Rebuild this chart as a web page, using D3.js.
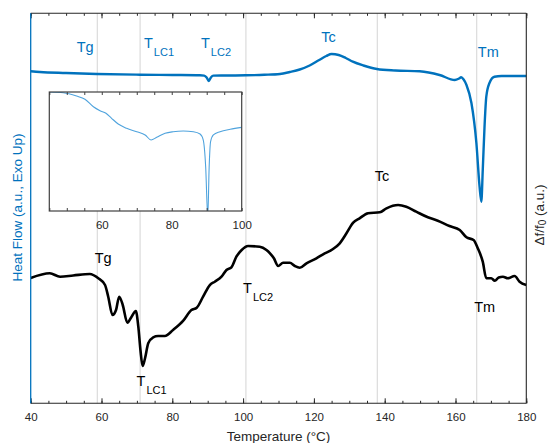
<!DOCTYPE html>
<html>
<head>
<meta charset="utf-8">
<script src="https://cdn.jsdelivr.net/npm/d3@7"></script>
<style>
  html, body { margin: 0; padding: 0; background: #fff; }
  svg { display: block; font-family: "Liberation Sans", Arial, sans-serif; }
</style>
</head>
<body>
<svg id="chart" width="549" height="443"></svg>
<script>
// ---------------- DATA ----------------
// DSC heat flow (a.u., exo up), temperature in °C
const dscTemp = [40, 42.6, 50, 58.7, 70.9, 80, 87.8, 89.0, 89.7, 90.3, 90.9, 91.6, 95, 100.8, 106, 110.4, 113.2, 116, 118.8, 121.5, 123.5, 125, 127, 129, 131, 134, 137.8, 143, 149.9, 155.5, 159.8, 161.0, 161.6, 162.3, 163.1, 164.5, 165.9, 166.8, 167.3, 167.7, 168.2, 168.7, 169.6, 171.0, 173, 180];
const dscFlow = [85.13, 84.95, 84.69, 84.44, 84.26, 84.18, 84.10, 84.03, 83.54, 82.64, 83.54, 84.03, 84.05, 84.10, 84.23, 84.44, 84.95, 85.59, 86.62, 88.03, 89.05, 89.56, 89.31, 88.54, 87.59, 86.62, 85.72, 85.33, 85.13, 84.18, 82.90, 83.28, 83.59, 83.03, 81.62, 77.0, 66.74, 55.54, 51.69, 59.82, 70.92, 78.62, 82.13, 83.74, 83.92, 83.92];

// Frequency shift Δf/f0 (a.u.)
const freqTemp = [40, 45.4, 48.3, 52, 56.7, 59.1, 61.0, 61.9, 63.1, 64.1, 65.0, 66.0, 67.3, 68.5, 69.7, 70.4, 71.0, 71.6, 72.3, 73.2, 74.6, 76.0, 77.9, 80.2, 83.1, 85.4, 86.9, 88.7, 90.6, 92.0, 93.9, 95.3, 96.7, 98.1, 99.6, 101.4, 104.7, 106.6, 107.6, 108.7, 109.9, 111.3, 113.2, 114.6, 116.0, 117.9, 120.7, 122.6, 125.4, 127.3, 129.2, 131.1, 132.9, 135.3, 138.6, 140.5, 143.8, 146.1, 148.9, 152.2, 155.0, 158.3, 161.2, 163.1, 165.1, 166.3, 167.7, 168.7, 170.1, 171.1, 172.2, 173.4, 174.8, 176.7, 178.1, 180];
const freqShift = [32.13, 33.33, 32.46, 32.77, 33.15, 32.05, 30.33, 27.33, 22.64, 23.92, 27.33, 25.21, 20.67, 22.21, 23.67, 19.64, 13.67, 9.56, 11.54, 15.38, 16.92, 17.26, 17.26, 18.79, 21.18, 23.92, 24.51, 27.33, 30.33, 31.18, 32.46, 34.18, 34.87, 37.59, 39.31, 40.33, 40.15, 39.31, 38.46, 37.18, 35.21, 36.05, 36.05, 35.21, 34.77, 35.90, 37.18, 38.21, 39.56, 41.03, 43.59, 46.31, 47.44, 48.72, 48.97, 50.0, 50.85, 50.41, 49.13, 47.69, 46.82, 45.46, 44.44, 42.56, 41.87, 39.74, 36.31, 32.05, 32.05, 31.44, 32.26, 32.46, 32.05, 32.64, 31.18, 30.33];

// Inset: DSC zoom 45–100 °C (a.u.)
const insetTemp = [45, 49, 52.8, 55.2, 57.6, 59.5, 61.2, 62.8, 64.7, 67.1, 70.0, 72.4, 74.1, 75.7, 78.1, 80.4, 83.3, 86.2, 88.1, 89.0, 89.7, 90.3, 90.7, 91.1, 91.9, 93.8, 96.7, 100];
const insetFlow = [100, 99.4, 96.6, 93.9, 87.6, 84.3, 82.1, 77.9, 73.1, 69.5, 66.6, 63.9, 59.7, 61.9, 65.3, 66.6, 67.2, 66.6, 64.7, 59.7, 37.2, -5, 37.2, 58.2, 63.9, 66.6, 68.7, 70.3];

// Transition temperatures (vertical guide lines)
const transitionTemps = [58.8, 70.9, 100.8, 137.9, 166.0];

// Tick labels
const xMajorTicks = [40, 60, 80, 100, 120, 140, 160, 180];
const insetMajorTicks = [60, 80, 100];

// Annotation labels: [main, subscript, temperature, a.u.]
const dscLabels = [["Tg", "", 53.0, 90.2], ["T", "LC1", 72.0, 91.0], ["T", "LC2", 88.1, 91.0], ["Tc", "", 122.1, 92.6], ["Tm", "", 166.3, 88.7]];
const freqLabels = [["Tg", "", 58.1, 36.1], ["T", "LC1", 69.9, 4.4], ["T", "LC2", 100.0, 28.2], ["Tc", "", 137.2, 56.9], ["Tm", "", 165.3, 23.5]];

// ---------------- DRAW ----------------
const BLUE = "#0072BD", DARK = "#262626";
const svg = d3.select("#chart");
const L = 30.7, R = 526.3, T = 13.3, B = 403.3;

const x = d3.scaleLinear().domain([40, 180]).range([L, R]);
const yFlow = d3.scaleLinear().domain([0, 100]).range([B, T]);
const yFreq = d3.scaleLinear().domain([0, 100]).range([B, T]);

// gridlines
svg.append("g").selectAll("line").data(transitionTemps).join("line")
  .attr("x1", d => x(d)).attr("x2", d => x(d))
  .attr("y1", T).attr("y2", B)
  .attr("stroke", "#d4d4d4").attr("stroke-width", 1);

// inset
const ix = d3.scaleLinear().domain([45, 100]).range([49.3, 241.7]);
const iy = d3.scaleLinear().domain([0, 100]).range([211, 92]);
const inset = svg.append("g");
inset.append("rect").attr("x", 49.3).attr("y", 92).attr("width", 241.7 - 49.3).attr("height", 211 - 92).attr("fill", "#fff");
svg.append("defs").append("clipPath").attr("id", "insetClip")
  .append("rect").attr("x", 49.3).attr("y", 92).attr("width", 241.7 - 49.3).attr("height", 211 - 92);
inset.append("path")
  .datum(d3.zip(insetTemp, insetFlow))
  .attr("clip-path", "url(#insetClip)")
  .attr("fill", "none").attr("stroke", "#4FA3DD").attr("stroke-width", 1.1)
  .attr("d", d3.line().x(d => ix(d[0])).y(d => iy(d[1])).curve(d3.curveMonotoneX));
const insetMinor = d3.range(45, 101, 5);
const iaxB = inset.append("g").attr("transform", `translate(0,211)`)
  .call(d3.axisBottom(ix).tickValues(insetMinor).tickSizeInner(-3).tickSizeOuter(0).tickFormat(d => insetMajorTicks.includes(d) ? d : "").tickPadding(10));
const iaxT = inset.append("g").attr("transform", `translate(0,92)`)
  .call(d3.axisTop(ix).tickValues(insetMinor).tickSizeInner(-3).tickSizeOuter(0).tickFormat(""));
[iaxB, iaxT].forEach(g => {
  g.select(".domain").remove();
  g.selectAll("line").attr("stroke", "#404040");
  g.selectAll("text").attr("fill", DARK).attr("font-size", 11.5).attr("font-family", "Liberation Sans, Arial, sans-serif");
});
inset.append("rect").attr("x", 49.3).attr("y", 92).attr("width", 241.7 - 49.3).attr("height", 211 - 92)
  .attr("fill", "none").attr("stroke", "#404040").attr("stroke-width", 1.2);

// curves
svg.append("path").datum(d3.zip(freqTemp, freqShift))
  .attr("fill", "none").attr("stroke", "#000").attr("stroke-width", 2.6).attr("stroke-linejoin", "round")
  .attr("d", d3.line().x(d => x(d[0])).y(d => yFreq(d[1])).curve(d3.curveMonotoneX));
svg.append("path").datum(d3.zip(dscTemp, dscFlow))
  .attr("fill", "none").attr("stroke", BLUE).attr("stroke-width", 2.4).attr("stroke-linejoin", "round")
  .attr("d", d3.line().x(d => x(d[0])).y(d => yFlow(d[1])).curve(d3.curveMonotoneX));

// annotation labels
function addLabels(data, yScale, color) {
  data.forEach(([main, sub, tx, ty]) => {
    const t = svg.append("text").attr("x", x(tx)).attr("y", yScale(ty))
      .attr("fill", color).attr("font-size", 14.5);
    t.append("tspan").text(main);
    if (sub) t.append("tspan").attr("font-size", 11).attr("dx", 1).attr("dy", 7.5).text(sub);
  });
}
addLabels(dscLabels, yFlow, BLUE);
addLabels(freqLabels, yFreq, "#000");

// main axes
const minor = d3.range(40, 181, 5);
const axB = svg.append("g").attr("transform", `translate(0,${B})`)
  .call(d3.axisBottom(x).tickValues(minor).tickSizeInner(-2.5).tickSizeOuter(0).tickFormat(""));
const axBMaj = svg.append("g").attr("transform", `translate(0,${B})`)
  .call(d3.axisBottom(x).tickValues(xMajorTicks).tickSizeInner(-5).tickSizeOuter(0).tickPadding(9.5));
const axT = svg.append("g").attr("transform", `translate(0,${T})`)
  .call(d3.axisTop(x).tickValues(minor).tickSizeInner(-2.5).tickSizeOuter(0).tickFormat(""));
const axTMaj = svg.append("g").attr("transform", `translate(0,${T})`)
  .call(d3.axisTop(x).tickValues(xMajorTicks).tickSizeInner(-5).tickSizeOuter(0).tickFormat(""));
[axB, axBMaj, axT, axTMaj].forEach(g => {
  g.select(".domain").remove();
  g.selectAll("line").attr("stroke", DARK);
  g.selectAll("text").attr("fill", DARK).attr("font-size", 11.5).attr("font-family", "Liberation Sans, Arial, sans-serif");
});
// box
svg.append("line").attr("x1", L).attr("x2", R).attr("y1", T).attr("y2", T).attr("stroke", DARK).attr("stroke-width", 1.1);
svg.append("line").attr("x1", L).attr("x2", R).attr("y1", B).attr("y2", B).attr("stroke", DARK).attr("stroke-width", 1.1);
svg.append("line").attr("x1", R).attr("x2", R).attr("y1", T).attr("y2", B).attr("stroke", DARK).attr("stroke-width", 1.1);
svg.append("line").attr("x1", L).attr("x2", L).attr("y1", T).attr("y2", B).attr("stroke", BLUE).attr("stroke-width", 1.3);

// axis titles
svg.append("text").attr("x", (L + R) / 2).attr("y", 440.5).attr("text-anchor", "middle")
  .attr("fill", DARK).attr("font-size", 13.5).text("Temperature (°C)");
svg.append("text").attr("transform", `translate(21.5,${207.5}) rotate(-90)`).attr("text-anchor", "middle")
  .attr("fill", BLUE).attr("font-size", 13.5).text("Heat Flow (a.u., Exo Up)");
const rl = svg.append("text").attr("transform", `translate(543.5,${215}) rotate(-90)`).attr("text-anchor", "middle")
  .attr("fill", DARK).attr("font-size", 13.5);
rl.append("tspan").text("Δf/f");
rl.append("tspan").attr("font-size", 10).attr("dy", 2.5).text("0");
rl.append("tspan").attr("dy", -2.5).text(" (a.u.)");
</script>
</body>
</html>
